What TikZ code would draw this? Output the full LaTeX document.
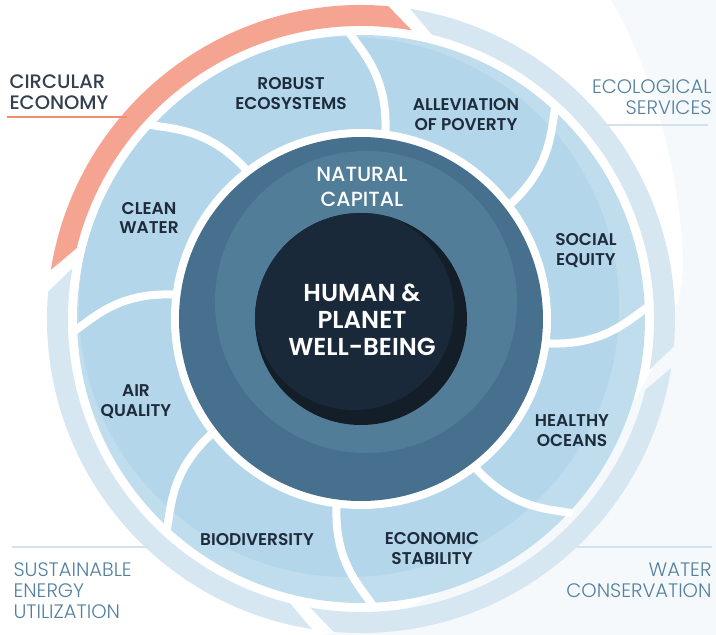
\documentclass[tikz,border=0pt]{standalone}
\usepackage{fontspec}
\setmainfont{Poppins}
\newfontfamily\semib{Poppins SemiBold}
\newfontfamily\medium{Poppins Medium}
\newfontfamily\lite{Poppins Light}
\usetikzlibrary{positioning}

\definecolor{petal}{HTML}{B3D6EB}
\definecolor{petallight}{HTML}{C0DDEE}
\definecolor{pale}{HTML}{D6E7F1}
\definecolor{salmon}{HTML}{F5A491}
\definecolor{capdark}{HTML}{46708D}
\definecolor{caplight}{HTML}{527D99}
\definecolor{coredark}{HTML}{131E29}
\definecolor{corelight}{HTML}{1A2939}
\definecolor{ink}{HTML}{1E2B3A}
\definecolor{steel}{HTML}{52809F}
\definecolor{rule}{HTML}{D3E3EE}
\definecolor{orangerule}{HTML}{F08E70}
\definecolor{tint}{HTML}{F6F9FB}

\tikzset{
  petallabel/.style={font=\semib\fontsize{17}{20}\selectfont, text=ink, align=center},
  outerlabel/.style={font=\lite\fontsize{19.5}{21}\selectfont, text=steel},
  sep/.style={white, line width=8pt}
}

\begin{document}
\begin{tikzpicture}[x=1pt, y=1pt]
\useasboundingbox (-361,-316) rectangle (355,319);

% faint tint on the right
\fill[tint] (250,319) -- (355,319) -- (355,-316) -- (-40,-316)
  .. controls (150,-285) and (325,-60) .. (322,60)
  .. controls (318,160) and (285,260) .. (250,319);

% outer swooshes
\foreach \a/\b/\col in {80/166/salmon, -10/76/pale, -100/-14/pale, 170/256/pale}{
  \fill[\col] (\a:293) arc[start angle=\a, end angle=\b, radius=293pt]
    -- ({\b+5}:314) arc[start angle={\b+5}, end angle={\a+5}, radius=314pt] -- cycle;
}

% petal ring
\fill[petallight] (0,0) circle[radius=284pt];
\begin{scope}
  \clip (0,0) circle[radius=284pt];
  \fill[petal] (-12,12) circle[radius=270pt];
\end{scope}

% curved separators
\foreach \a in {127.5,82.5,...,-187.5}{
  \draw[sep] (\a:186) .. controls ({\a+1}:245) and ({\a+7.5}:268) .. ({\a+10}:288);
}

% natural capital
\fill[white] (0,0) circle[radius=190pt];
\fill[capdark] (0,0) circle[radius=182pt];
\begin{scope}
  \clip (0,0) circle[radius=182pt];
  \fill[caplight] (5,17) circle[radius=151pt];
\end{scope}

% core
\fill[coredark] (0,0) circle[radius=106pt];
\begin{scope}
  \clip (0,0) circle[radius=106pt];
  \fill[corelight] (-7,9) circle[radius=100pt];
\end{scope}

% labels
\node[font=\semib\fontsize{24.5}{27}\selectfont, text=white, align=center] (wellbeing) at (1,-1) {HUMAN \&\\PLANET\\WELL-BEING};
\node[font=\medium\fontsize{20.5}{25}\selectfont, text=white, align=center] (natcap) at (1,132) {NATURAL\\CAPITAL};

\node[petallabel] (robust) at (-70,225) {ROBUST\\ECOSYSTEMS};
\node[petallabel] (poverty) at (105,204) {ALLEVIATION\\OF POVERTY};
\node[petallabel] (equity) at (225,68) {SOCIAL\\EQUITY};
\node[petallabel] (oceans) at (211,-112) {HEALTHY\\OCEANS};
\node[petallabel] (stability) at (71,-230) {ECONOMIC\\STABILITY};
\node[petallabel] (biodiv) at (-104,-221) {BIODIVERSITY};
\node[petallabel] (air) at (-225,-83) {AIR\\QUALITY};
\node[petallabel] (water) at (-212,101) {CLEAN\\WATER};

% outer labels
\node[font=\medium\fontsize{19.5}{21}\selectfont, text=ink!90, align=left, anchor=west] (circular) at (-355,227) {CIRCULAR\\ECONOMY};
\node[outerlabel, align=right, anchor=east] (ecoserv) at (354,222) {ECOLOGICAL\\SERVICES};
\node[outerlabel, align=left, anchor=west] (energy) at (-351,-272) {SUSTAINABLE\\ENERGY\\UTILIZATION};
\node[outerlabel, align=right, anchor=east] (conserv) at (354,-261) {WATER\\CONSERVATION};

\coordinate (circL) at (-354,202);
\coordinate (circR) at (-234,202);
\coordinate (ecoL) at (242,194);
\coordinate (ecoR) at (347,194);
\coordinate (enL) at (-349,-228);
\coordinate (enR) at (-213,-228);
\coordinate (conL) at (216,-228);
\coordinate (conR) at (351,-228);
\draw[orangerule, line width=1.3pt] (circL) -- (circR);
\draw[rule, line width=1.3pt] (ecoL) -- (ecoR);
\draw[rule, line width=1.3pt] (enL) -- (enR);
\draw[rule, line width=1.3pt] (conL) -- (conR);
\end{tikzpicture}
\end{document}
